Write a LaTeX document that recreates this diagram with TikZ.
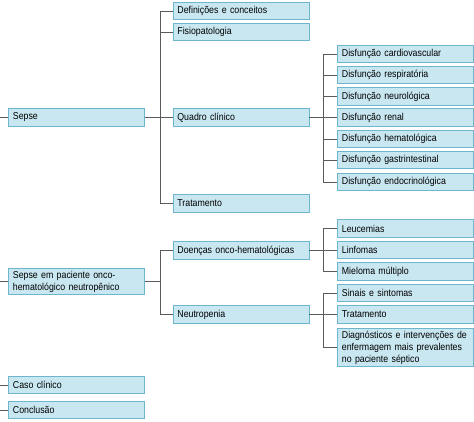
\documentclass[tikz,border=0pt]{standalone}
\usepackage{fontspec}
\setmainfont[FakeStretch=0.88]{Liberation Sans}
\usepackage{xcolor}
\definecolor{boxfill}{HTML}{C9E7F1}
\definecolor{boxline}{HTML}{6DB6CE}
\definecolor{linkgray}{HTML}{5A5A5A}
\begin{document}
\begin{tikzpicture}[x=1pt, y=-1pt,
  every node/.style={draw=boxline, fill=boxfill, line width=0.8pt, anchor=west, align=left,
    text width=127pt, inner xsep=4.5pt, inner ysep=2pt, minimum height=17.5pt,
    font=\fontsize{10}{12}\selectfont},
  link/.style={draw=linkgray, line width=0.8pt}]
\useasboundingbox (0,0) rectangle (474,421);
\node (sepse) at (8,117.5) {Sepse};
\node (pac) at (8,281.5) {Sepse em paciente onco-\\hematológico neutropênico};
\node (caso) at (8,385) {Caso clínico};
\node (concl) at (8,410) {Conclusão};
\node (def) at (172.5,11) {Definições e conceitos};
\node (fisio) at (172.5,32) {Fisiopatologia};
\node (quadro) at (172.5,117.5) {Quadro clínico};
\node (trat) at (172.5,203.5) {Tratamento};
\node (doen) at (172.5,250.5) {Doenças onco-hematológicas};
\node (neut) at (172.5,314.5) {Neutropenia};
\node (card) at (337,54) {Disfunção cardiovascular};
\node (resp) at (337,75) {Disfunção respiratória};
\node (neur) at (337,96.5) {Disfunção neurológica};
\node (renal) at (337,117.5) {Disfunção renal};
\node (hemat) at (337,139) {Disfunção hematológica};
\node (gastr) at (337,160) {Disfunção gastrintestinal};
\node (endo) at (337,182) {Disfunção endocrinológica};
\node (leuc) at (337,228.5) {Leucemias};
\node (linf) at (337,250) {Linfomas};
\node (miel) at (337,271.5) {Mieloma múltiplo};
\node (sinais) at (337,293) {Sinais e sintomas};
\node (tratn) at (337,314.5) {Tratamento};
\node (diag) at (337,347.5) {Diagnósticos e intervenções de\\enfermagem mais prevalentes\\no paciente séptico};
\coordinate (trunk) at (0,0);
\coordinate (j1) at (160,117.5);
\coordinate (j2) at (160,281.5);
\coordinate (j3) at (323,117.5);
\coordinate (j4) at (323,250.5);
\coordinate (j5) at (323,314.5);
\foreach \n in {sepse,pac,caso,concl} \draw[link] (\n.west) -- (\n.west -| trunk);
\draw[link] (sepse) -- (j1) (pac) -- (j2) (quadro) -- (j3) (doen) -- (j4) (neut) -- (j5);
\foreach \n in {def,fisio,quadro,trat} \draw[link] (j1) |- (\n);
\foreach \n in {doen,neut} \draw[link] (j2) |- (\n);
\foreach \n in {card,resp,neur,renal,hemat,gastr,endo} \draw[link] (j3) |- (\n);
\foreach \n in {leuc,linf,miel} \draw[link] (j4) |- (\n);
\foreach \n in {sinais,tratn,diag} \draw[link] (j5) |- (\n);
\end{tikzpicture}
\end{document}
